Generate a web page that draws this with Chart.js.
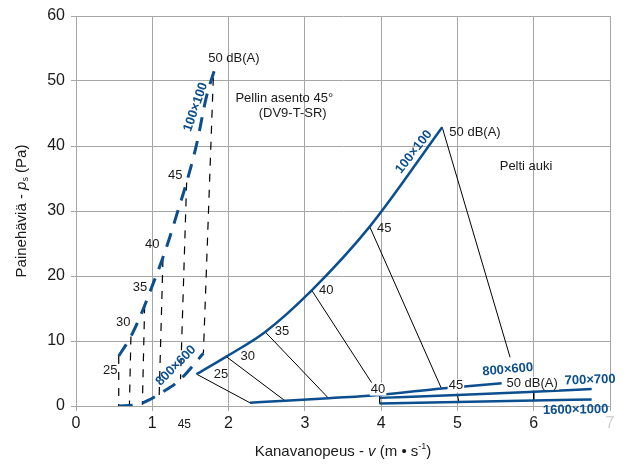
<!DOCTYPE html>
<html>
<head>
<meta charset="utf-8">
<script src="https://cdn.jsdelivr.net/npm/chart.js@4.4.0/dist/chart.umd.min.js"></script>
<style>
  html, body { margin: 0; padding: 0; background: #fff; }
</style>
</head>
<body>
<canvas id="chart" width="629" height="466"></canvas>
<script>
const blue = '#0b4f8e';
const ink = '#1a1a1a';
const fontFamily = '"Liberation Sans", Arial, sans-serif';

// damper at 45 deg (DV9-T-SR) - dashed curves, [v, ps]
const damper100x100 = [[0.56, 7.7], [0.72, 10.7], [0.86, 14.3], [0.99, 18.2], [1.12, 22.2], [1.23, 26.0],
  [1.34, 30.2], [1.44, 34.0], [1.58, 40.2], [1.71, 47.6], [1.81, 51.5]];
const damper800x600 = [[0.56, 0], [0.8, 0.2], [0.97, 1.0], [1.10, 1.9], [1.36, 4.0], [1.67, 8.1]];
const damperDbLines = [
  [[0.56, 7.7], [0.56, 0]],
  [[0.72, 10.7], [0.70, 0]],
  [[0.90, 15.5], [0.87, 0.2]],
  [[1.14, 22.6], [1.09, 1.5]],
  [[1.45, 34.4], [1.37, 4.1]],
  [[1.80, 50.5], [1.67, 8.1]]
];

// damper open - solid curves
const open100x100 = [[1.58, 4.9], [1.97, 7.6], [2.48, 11.4], [3.09, 17.8], [3.85, 27.6], [4.80, 42.9]];
const open800x600 = [[2.28, 0.5], [2.74, 0.8], [3.31, 1.2], [3.98, 1.7], [4.79, 2.7], [5.58, 3.5]];
const open700x700 = [[3.98, 1.25], [5.0, 1.7], [6.0, 2.2], [6.76, 2.6]];
const open1600x1000 = [[3.98, 0.4], [5.0, 0.6], [6.0, 0.85], [6.76, 1.0]];
const openDbLines = [
  [[1.58, 4.9], [2.28, 0.5]],
  [[1.97, 7.6], [2.74, 0.8]],
  [[2.48, 11.4], [3.31, 1.2]],
  [[3.09, 17.8], [3.98, 1.7], [3.98, 0.4]],
  [[3.85, 27.6], [4.79, 2.7]],
  [[4.80, 42.9], [5.69, 7.5]],
  [[5.0, 1.7], [5.02, 0.6]],
  [[6.0, 2.2], [6.0, 0.85]]
];

const xTicks = [0, 1, 2, 3, 4, 5, 6, 7];
const yTicks = [0, 10, 20, 30, 40, 50, 60];

// text notes, placed in data units
const notes = [
  { text: '50 dB(A)', x: 2.07, y: 53.5 },
  { text: 'Pellin asento 45°', x: 2.73, y: 47.3 },
  { text: '(DV9-T-SR)', x: 2.84, y: 45.0 },
  { text: 'Pelti auki', x: 5.90, y: 36.9 },
  { text: '50 dB(A)', x: 5.23, y: 42.1 },
  { text: '25', x: 0.45, y: 5.5 },
  { text: '30', x: 0.62, y: 12.8 },
  { text: '35', x: 0.84, y: 18.2 },
  { text: '40', x: 1.00, y: 24.8 },
  { text: '45', x: 1.30, y: 35.5 },
  { text: '25', x: 1.90, y: 4.9 },
  { text: '30', x: 2.25, y: 7.6 },
  { text: '35', x: 2.70, y: 11.4 },
  { text: '40', x: 3.28, y: 17.8 },
  { text: '45', x: 4.04, y: 27.3 },
  { text: '40', x: 3.96, y: 2.6, bg: true },
  { text: '45', x: 4.98, y: 3.1, bg: true },
  { text: '50 dB(A)', x: 5.98, y: 3.5, bg: true },
  { text: '45', x: 1.42, y: -2.9, size: 12 },
  { text: '100×100', x: 1.57, y: 46.0, rot: -71, bold: true },
  { text: '800×600', x: 1.31, y: 6.2, rot: -45, bold: true },
  { text: '100×100', x: 4.43, y: 39.1, rot: -52, bold: true },
  { text: '800×600', x: 5.66, y: 5.6, rot: -5, bold: true },
  { text: '700×700', x: 6.74, y: 4.0, rot: -2, bold: true },
  { text: '1600×1000', x: 6.55, y: -0.6, rot: -1, bold: true }
];

function series(points, color, width, dash, order, smooth) {
  return {
    data: points.map(([x, y]) => ({ x, y })),
    showLine: true,
    borderColor: color,
    borderWidth: width,
    borderDash: dash,
    pointRadius: 0,
    fill: false,
    tension: smooth ? 0.4 : 0,
    cubicInterpolationMode: smooth ? 'monotone' : 'default',
    order: order
  };
}

const datasets = [
  series(damper100x100, blue, 3, [14, 10], 0, true),
  series(damper800x600, blue, 3, [14, 10], 0, true),
  series(open100x100, blue, 2.5, [], 0, true),
  series(open800x600, blue, 2.5, [], 0, true),
  series(open700x700, blue, 2.5, [], 0, true),
  series(open1600x1000, blue, 2.5, [], 0, true)
];
damperDbLines.forEach(l => datasets.push(series(l, '#000', 1.2, [8, 8], 1, false)));
openDbLines.forEach(l => datasets.push(series(l, '#000', 1, [], 1, false)));

const notesPlugin = {
  id: 'notes',
  afterDatasetsDraw(chart) {
    const { ctx, scales } = chart;
    ctx.save();
    notes.forEach(n => {
      const px = scales.x.getPixelForValue(n.x);
      const py = scales.y.getPixelForValue(n.y);
      const size = n.size || 13;
      ctx.font = (n.bold ? 'bold ' : '') + size + 'px ' + fontFamily;
      ctx.textAlign = 'center';
      ctx.textBaseline = 'middle';
      ctx.save();
      ctx.translate(px, py);
      if (n.rot) ctx.rotate(n.rot * Math.PI / 180);
      if (n.bg) {
        const w = ctx.measureText(n.text).width;
        ctx.fillStyle = '#fff';
        ctx.fillRect(-w / 2 - 1, -size / 2, w + 2, size);
      }
      ctx.fillStyle = n.bold ? blue : ink;
      ctx.fillText(n.text, 0, 0);
      ctx.restore();
    });
    ctx.restore();
  }
};

// axis titles with italic symbol and sub/superscript
function drawRich(ctx, parts, cx, cy) {
  let total = 0;
  parts.forEach(p => { ctx.font = p.font; p.w = ctx.measureText(p.t).width; total += p.w; });
  let x = cx - total / 2;
  parts.forEach(p => {
    ctx.font = p.font;
    ctx.fillText(p.t, x, cy + (p.dy || 0));
    x += p.w;
  });
}

const titlesPlugin = {
  id: 'titles',
  afterDraw(chart) {
    const ctx = chart.ctx;
    const area = chart.chartArea;
    const f = '15px ' + fontFamily;
    const fi = 'italic 15px ' + fontFamily;
    const fs = '9px ' + fontFamily;
    ctx.save();
    ctx.fillStyle = ink;
    ctx.textAlign = 'left';
    ctx.textBaseline = 'middle';
    drawRich(ctx, [
      { t: 'Kanavanopeus - ', font: f },
      { t: 'v', font: fi },
      { t: ' (m • s', font: f },
      { t: '-1', font: fs, dy: -5 },
      { t: ')', font: f }
    ], (area.left + area.right) / 2, 452);
    ctx.translate(22, (area.top + area.bottom) / 2);
    ctx.rotate(-Math.PI / 2);
    drawRich(ctx, [
      { t: 'Painehäviä - ', font: f },
      { t: 'p', font: fi },
      { t: 's', font: fs, dy: 4 },
      { t: ' (Pa)', font: f }
    ], 0, 0);
    ctx.restore();
  }
};

new Chart(document.getElementById('chart'), {
  type: 'scatter',
  data: { datasets },
  options: {
    responsive: false,
    devicePixelRatio: 1,
    animation: false,
    layout: { padding: { top: 16, right: 19, left: 0, bottom: 0 } },
    plugins: { legend: { display: false }, tooltip: { enabled: false } },
    scales: {
      x: {
        type: 'linear', min: 0, max: 7,
        afterFit: s => { s.height = 60; },
        afterBuildTicks: s => { s.ticks = xTicks.map(v => ({ value: v })); },
        grid: { color: '#a6a6a6', tickLength: 5 },
        border: { color: '#a6a6a6' },
        ticks: {
          padding: 3,
          color: c => c.tick.value === 7 ? '#cfcfcf' : ink,
          font: { family: fontFamily, size: 16 }
        }
      },
      y: {
        type: 'linear', min: 0, max: 60,
        afterFit: s => { s.width = 76; },
        afterBuildTicks: s => { s.ticks = yTicks.map(v => ({ value: v })); },
        grid: { color: '#a6a6a6', tickLength: 5 },
        border: { color: '#a6a6a6' },
        ticks: { padding: 6, color: ink, font: { family: fontFamily, size: 16 } }
      }
    }
  },
  plugins: [notesPlugin, titlesPlugin]
});
</script>
</body>
</html>
